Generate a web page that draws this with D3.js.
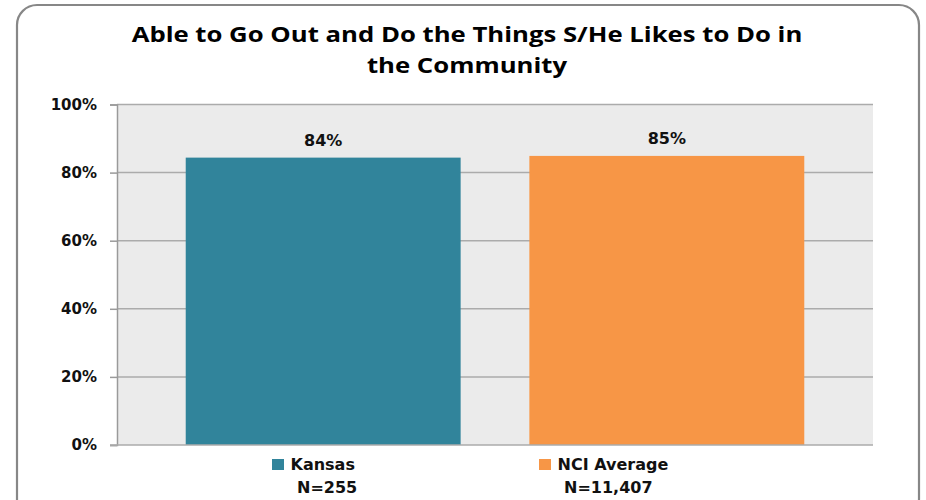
<!DOCTYPE html>
<html>
<head>
<meta charset="utf-8">
<script src="https://cdn.jsdelivr.net/npm/d3@7"></script>
<style>
  html, body { margin: 0; padding: 0; background: #fff; }
  svg { display: block; }
</style>
</head>
<body>
<svg id="chart" width="926" height="500"></svg>
<script>
const titleLines = ["Able to Go Out and Do the Things S/He Likes to Do in", "the Community"];
const series = ["Kansas", "NCI Average"];
const values = [84.4, 84.9];
const sampleSizes = ["N=255", "N=11,407"];
const colors = ["#31849B", "#F79646"];
const yTicks = [0, 20, 40, 60, 80, 100];

const svg = d3.select("#chart");
const plot = { left: 117, right: 873, top: 104.5, bottom: 445 };

// frame
svg.append("rect")
  .attr("x", 17).attr("y", 5)
  .attr("width", 919 - 17).attr("height", 499 - 5 + 20)
  .attr("rx", 20).attr("ry", 20)
  .attr("fill", "#fff").attr("stroke", "#878787").attr("stroke-width", 2.2);

// title (horizontally scaled to match the reference width)
const titleCx = 467;
const title = svg.append("g");
const inner = title.append("g");
titleLines.forEach((t, i) => {
  inner.append("text")
    .attr("x", 0).attr("y", i === 0 ? 42.5 : 73)
    .attr("text-anchor", "middle")
    .attr("font-family", "'Open Sans', Lato, sans-serif").attr("font-weight", "bold")
    .attr("font-size", 21).attr("fill", "#000")
    .text(t);
});
const w0 = inner.select("text").node().getComputedTextLength();
const sx = 671 / w0;
title.attr("transform", `translate(${titleCx},0) scale(${sx},1)`);

const x = d3.scaleBand().domain(series).range([plot.left, plot.right]).paddingInner(0.2).paddingOuter(0.2);
const y = d3.scaleLinear().domain([0, 100]).range([plot.bottom, plot.top]);

// plot background
svg.append("rect")
  .attr("x", plot.left).attr("y", plot.top)
  .attr("width", plot.right - plot.left).attr("height", plot.bottom - plot.top)
  .attr("fill", "#EBEBEB");

// gridlines
svg.append("g").selectAll("line").data(yTicks.filter(d => d > 0)).join("line")
  .attr("x1", plot.left).attr("x2", plot.right)
  .attr("y1", d => y(d)).attr("y2", d => y(d))
  .attr("stroke", "#ABABAB").attr("stroke-width", 1.5);

// y axis
const yAxis = d3.axisLeft(y).tickValues(yTicks).tickFormat(d => d + "%").tickSize(7).tickPadding(13);
const ya = svg.append("g").attr("transform", `translate(${plot.left},0)`).call(yAxis);
ya.select(".domain").attr("stroke", "#9A9A9A").attr("stroke-width", 1.5);
ya.selectAll(".tick line").attr("stroke", "#9A9A9A").attr("stroke-width", 1.5);
ya.selectAll(".tick text")
  .attr("font-family", "'DejaVu Sans', Verdana, sans-serif")
  .attr("font-weight", "bold").attr("font-size", 15).attr("fill", "#111");

// bars
svg.append("g").selectAll("rect").data(series).join("rect")
  .attr("x", d => x(d)).attr("width", x.bandwidth())
  .attr("y", (d, i) => y(values[i]))
  .attr("height", (d, i) => y(0) - y(values[i]))
  .attr("fill", (d, i) => colors[i]);

// baseline
svg.append("line")
  .attr("x1", plot.left - 7).attr("x2", plot.right)
  .attr("y1", y(0)).attr("y2", y(0))
  .attr("stroke", "#ABABAB").attr("stroke-width", 1.5);

// data labels
svg.append("g").selectAll("text").data(series).join("text")
  .attr("x", d => x(d) + x.bandwidth() / 2)
  .attr("y", (d, i) => y(values[i]) - 12)
  .attr("text-anchor", "middle")
  .attr("font-family", "'DejaVu Sans', Verdana, sans-serif")
  .attr("font-weight", "bold").attr("font-size", 16).attr("fill", "#111")
  .text((d, i) => Math.round(values[i]) + "%");

// legend
const legendX = [272, 539];
const lg = svg.append("g");
series.forEach((s, i) => {
  const g = lg.append("g").attr("transform", `translate(${legendX[i]},0)`);
  g.append("rect").attr("x", 0).attr("y", 459).attr("width", 12).attr("height", 11).attr("fill", colors[i]);
  g.append("text").attr("x", 18.5).attr("y", 470)
    .attr("font-family", "'DejaVu Sans', Verdana, sans-serif")
    .attr("font-weight", "bold").attr("font-size", 16).attr("fill", "#111")
    .text(s);
  g.append("text").attr("x", 25).attr("y", 493)
    .attr("font-family", "'DejaVu Sans', Verdana, sans-serif")
    .attr("font-weight", "bold").attr("font-size", 16).attr("fill", "#111")
    .text(sampleSizes[i]);
});
</script>
</body>
</html>
